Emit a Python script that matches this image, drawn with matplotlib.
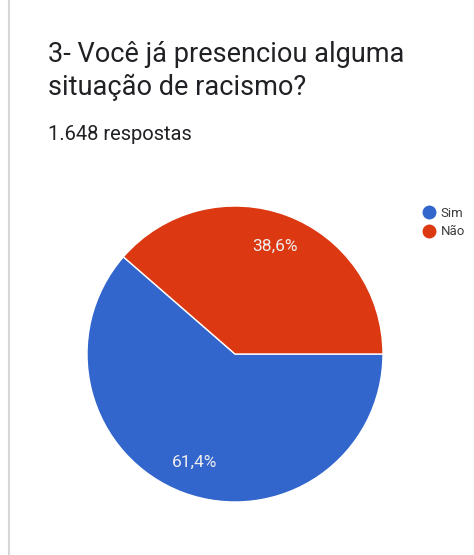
import matplotlib.pyplot as plt
from matplotlib.lines import Line2D

plt.rcParams['font.family'] = ['Roboto', 'DejaVu Sans']

# respostas
labels = ['Sim', 'Não']
shares = [61.4, 38.6]
colors = ['#3366cc', '#dc3912']

title_lines = ['3- Você já presenciou alguma', 'situação de racismo?']
subtitle = '1.648 respostas'

W, H = 474, 555
fig = plt.figure(figsize=(W / 100, H / 100), dpi=100)
fig.patch.set_facecolor('white')

# card border on the left
fig.add_artist(Line2D([9 / W, 9 / W], [0, 1], color='#d6d6d6', lw=1.5))

for line, base in zip(title_lines, [62, 95]):
    fig.text(48 / W, 1 - base / H, line, fontsize=19.5, color='#202124',
             va='baseline', ha='left')
fig.text(48 / W, 1 - 140 / H, subtitle, fontsize=14.5, color='#202124',
         va='baseline', ha='left')

# pie centred at (235, 354) px, radius 148 px
cx, cy, r = 235, 354, 148
ax = fig.add_axes([(cx - r) / W, (H - cy - r) / H, 2 * r / W, 2 * r / H])


def fmt(p):
    return f'{p:.1f}%'.replace('.', ',')


wedges, texts, autotexts = ax.pie(
    shares, colors=colors, startangle=0, counterclock=False,
    autopct=fmt, pctdistance=0.78, radius=1,
    wedgeprops=dict(edgecolor='white', linewidth=1),
    textprops=dict(color='#eeeeee', fontsize=12.5))
ax.set_aspect('equal')
ax.set_xlim(-1, 1)
ax.set_ylim(-1, 1)
ax.axis('off')

# legend with round markers
handles = [Line2D([], [], marker='o', ls='', markersize=9,
                  markerfacecolor=c, markeredgecolor=c) for c in colors]
fig.legend(handles, labels, loc='upper left',
           bbox_to_anchor=(422 / W, 1 - 207 / H), frameon=False,
           fontsize=9.5, labelcolor='#3c3c3c', handletextpad=0.4,
           labelspacing=0.4, borderaxespad=0, borderpad=0,
           handlelength=1.0)

fig.savefig('out.png', dpi=100)
